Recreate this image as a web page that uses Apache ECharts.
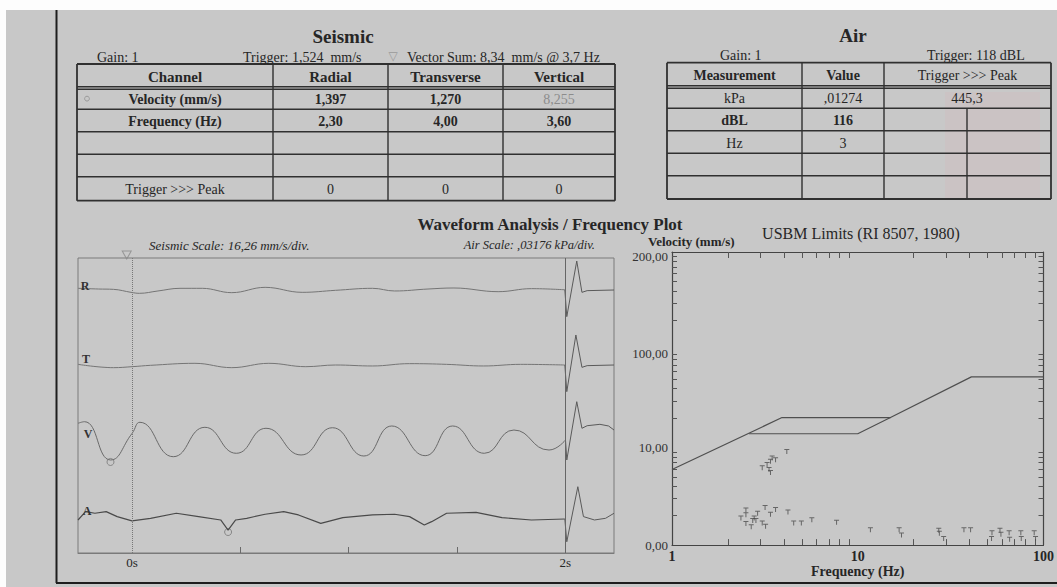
<!DOCTYPE html>
<html><head><meta charset="utf-8">
<script src="https://cdn.jsdelivr.net/npm/echarts@6/dist/echarts.min.js"></script>
<style>html,body{margin:0;padding:0;background:#c8c8c8;}#c{width:1057px;height:587px;}</style>
</head><body><div id="c"></div>
<script>
// ---------- DATA ----------
const SEIS_CHANNELS = ['Radial', 'Transverse', 'Vertical'];
const SEIS_VELOCITY = ['1,397', '1,270', '8,255'];
const SEIS_FREQ = ['2,30', '4,00', '3,60'];
const SEIS_TRIG_PEAK = ['0', '0', '0'];
const AIR_MEAS = ['kPa', 'dBL', 'Hz'];
const AIR_VALUES = [',01274', '116', '3'];
const AIR_TRIG_PEAK = '445,3';

const CHANNEL_LABELS = ['R', 'T', 'V', 'A'];
const SEISMIC_SCALE = 16.26;   // mm/s per div
const AIR_SCALE = 0.03176;     // kPa per div

// time (s), velocity (mm/s)
const WAVE_R = [[-0.25,0.36],[-0.155,0.21],[-0.086,0.14],[-0.005,-0.50],[0.033,-0.71],[0.119,-0.21],[0.221,0.36],[0.324,0.36],[0.460,-0.57],[0.614,0.57],[0.785,-0.50],[0.939,-0.07],[1.110,0.36],[1.212,-0.21],[1.366,0.21],[1.486,0.43],[1.690,-0.36],[1.844,0.29],[1.998,0.05]];
const PULSE_R = [[1.998,0.05],[2.007,-5.70],[2.053,6.20],[2.077,-0.50],[2.101,-0.14],[2.225,0]];
const WAVE_T = [[-0.25,0.14],[-0.086,-0.57],[0.000,-0.36],[0.085,-0.07],[0.290,0.36],[0.460,-0.57],[0.631,0.36],[0.802,-0.36],[0.939,0],[1.110,-0.21],[1.281,0.29],[1.452,0.14],[1.623,-0.21],[1.793,0.14],[1.998,0]];
const PULSE_T = [[1.998,0],[2.007,-5.70],[2.049,6.42],[2.077,-0.50],[2.101,-0.14],[2.225,0]];
const WAVE_V = [[-0.25,3.79],[-0.220,4.13],[-0.100,-4.06],[0.000,1.65],[0.036,4.0],[0.190,-3.36],[0.336,2.93],[0.481,-2.63],[0.618,2.72],[0.780,-2.99],[0.925,2.84],[1.070,-3.21],[1.199,3.21],[1.353,-3.14],[1.480,3.21],[1.626,-2.63],[1.763,2.35],[1.925,-1.93],[2.001,0.21]];
const PULSE_V = [[2.001,0.21],[2.007,-4.06],[2.053,8.41],[2.077,2.72],[2.101,3.27],[2.16,3.57],[2.20,3.21],[2.225,2.35]];
// time (s), pressure (kPa)
const WAVE_A = [[-0.25,-0.0007],[-0.215,0.0028],[-0.172,0.0021],[-0.120,0.0028],[-0.069,0.0007],[-0.001,-0.0011],[0.085,0],[0.204,0.0021],[0.307,0.0007],[0.409,-0.0007],[0.443,-0.0049],[0.478,-0.0007],[0.529,0],[0.614,0.0017],[0.700,0.0028],[0.768,0.0014],[0.871,-0.0021],[0.973,0.0003],[1.110,0.0014],[1.212,0.0017],[1.281,0.0007],[1.349,-0.0028],[1.383,-0.0014],[1.452,0.0021],[1.588,0.0025],[1.708,0.0003],[1.844,-0.0007],[1.998,-0.0003]];
const PULSE_A = [[1.998,-0.0003],[2.007,-0.0098],[2.058,0.0132],[2.084,0.0007],[2.135,-0.0007],[2.186,0],[2.225,0.0021]];
const PEAK_MARK_V = [[-0.100, -4.06]];
const PEAK_MARK_A = [[0.443, -0.0049]];

// frequency (Hz), velocity (mm/s)
const USBM_UPPER = [[1,5.95],[3.91,20.2],[15.0,20.2],[40.9,52.7],[100,52.7]];
const USBM_LOWER = [[2.60,13.8],[10,13.8],[15.0,20.2]];
const PPV_POINTS = [[4.15,9.06],[3.46,7.79],[3.61,7.49],[3.39,7.20],[3.25,6.68],[3.06,6.19],[3.33,5.95],[3.39,5.52],
 [2.50,2.29],[2.50,2.04],[2.35,1.89],[2.77,1.89],[2.89,2.12],[2.83,1.79],[2.72,1.79],[2.50,1.66],[2.67,1.54],[3.06,1.68],[3.19,1.56],[3.17,2.43],[3.39,2.07],[3.61,2.32],[4.21,2.18],[4.52,1.68],[4.97,1.68],[5.66,1.82],[7.69,1.71],
 [11.7,1.44],[16.7,1.44],[17.2,1.27],[27.3,1.42],[27.5,1.32],[29.0,1.17],[37.3,1.44],[40.5,1.44],[52.8,1.34],[52.5,1.17],[58.3,1.42],[59.0,1.29],[65.3,1.34],[65.7,1.15],[75.5,1.34],[75.9,1.17],[89.1,1.34],[90.6,1.17]];
const FREQ_X_LABELS = [1, 10, 100];
const FREQ_Y_LABELS = {1: '0,00', 10: '10,00', 100: '100,00', 1000: '200,00'};
const LOG_MINOR_X = [2,3,4,5,6,7,8,9,20,30,40,50,60,70,80,90];
const LOG_MINOR_Y = [2,3,4,5,6,7,8,9,20,30,40,50,60,70,80,90,200,300,400,500,600,700,800,900];

// ---------- LAYOUT / STYLE ----------
const SERIF = '"Liberation Serif", "DejaVu Serif", serif';
const INK = '#262626';
const BG = '#c8c8c8';
const g = [];
function T(text, x, y, o) {
  o = o || {};
  g.push({type: 'text', x: x, y: y, silent: true, z: 10, style: {
    text: text, fontFamily: SERIF, fontSize: o.fs || 14, fontWeight: o.fw || 'normal',
    fontStyle: o.it ? 'italic' : 'normal', fill: o.color || INK,
    align: o.align || 'center', verticalAlign: 'middle'}});
}
function L(x1, y1, x2, y2, w, c) {
  g.push({type: 'line', silent: true, z: 5, shape: {x1: x1, y1: y1, x2: x2, y2: y2},
    style: {stroke: c || '#303030', lineWidth: w || 1.4}});
}
// page edges
g.push({type: 'rect', z: 1, silent: true, shape: {x: 0, y: 0, width: 1057, height: 10}, style: {fill: '#fdfdfd'}});
g.push({type: 'rect', z: 1, silent: true, shape: {x: 0, y: 0, width: 6, height: 587}, style: {fill: '#fdfdfd'}});
L(56.5, 10, 56.5, 583, 2, '#1e1e1e');
L(56, 583, 1057, 583, 2, '#1e1e1e');

// ---- Seismic table ----
const sCols = [77, 273, 388, 503, 615];
const sRows = [64, 88, 109.3, 131.7, 154.3, 176.7, 200.7];
T('Seismic', 343, 36, {fs: 19, fw: 'bold'});
T('Gain: 1', 97, 57, {align: 'left'});
T('Trigger: 1,524  mm/s', 243, 57, {align: 'left'});
T('\u25BD', 393, 56, {color: '#9a9a9a', fs: 12});
T('Vector Sum: 8,34  mm/s @ 3,7 Hz', 407, 57, {align: 'left'});
sRows.forEach(function (y, i) {
  if (i === 1) { L(sCols[0], y - 1.3, sCols[4], y - 1.3); L(sCols[0], y + 1.3, sCols[4], y + 1.3); }
  else L(sCols[0], y, sCols[4], y, i === 0 || i === sRows.length - 1 ? 1.8 : 1.4);
});
sCols.forEach(function (x, i) { L(x, sRows[0], x, sRows[6], i === 0 || i === 4 ? 1.8 : 1.4); });
function cx(cols, i) { return (cols[i] + cols[i + 1]) / 2; }
function cy(rows, i) { return (rows[i] + rows[i + 1]) / 2 + 1; }
T('Channel', cx(sCols, 0), cy(sRows, 0), {fs: 15, fw: 'bold'});
SEIS_CHANNELS.forEach(function (t, i) { T(t, cx(sCols, i + 1), cy(sRows, 0), {fs: 15, fw: 'bold'}); });
T('Velocity (mm/s)', cx(sCols, 0), cy(sRows, 1), {fw: 'bold'});
SEIS_VELOCITY.forEach(function (t, i) { T(t, cx(sCols, i + 1), cy(sRows, 1), i === 2 ? {color: '#8c8c8c'} : {fw: 'bold'}); });
g.push({type: 'circle', silent: true, z: 10, shape: {cx: 87, cy: cy(sRows, 1) - 1, r: 2.4}, style: {fill: 'none', stroke: '#9a9a9a', lineWidth: 1}});
T('Frequency (Hz)', cx(sCols, 0), cy(sRows, 2), {fw: 'bold'});
SEIS_FREQ.forEach(function (t, i) { T(t, cx(sCols, i + 1), cy(sRows, 2), {fw: 'bold'}); });
T('Trigger >>> Peak', cx(sCols, 0), cy(sRows, 5), {});
SEIS_TRIG_PEAK.forEach(function (t, i) { T(t, cx(sCols, i + 1), cy(sRows, 5), {}); });

// ---- Air table ----
const aCols = [667, 802, 884, 1051];
const aSub = 967;
const aRows = [62.7, 87, 108.3, 130.7, 153.3, 175.7, 199];
g.push({type: 'rect', z: 2, silent: true, shape: {x: 945, y: 92, width: 95, height: 106},
  style: {fill: 'rgba(225,170,180,0.14)'}});
T('Air', 853, 35, {fs: 19, fw: 'bold'});
T('Gain: 1', 720, 55, {align: 'left'});
T('Trigger: 118 dBL', 927, 55, {align: 'left'});
aRows.forEach(function (y, i) {
  if (i === 1) { L(aCols[0], y - 1.3, aCols[3], y - 1.3); L(aCols[0], y + 1.3, aCols[3], y + 1.3); }
  else L(aCols[0], y, aCols[3], y, i === 0 || i === aRows.length - 1 ? 1.8 : 1.4);
});
aCols.forEach(function (x, i) { L(x, aRows[0], x, aRows[6], i === 0 || i === 3 ? 1.8 : 1.4); });
L(aSub, aRows[2], aSub, aRows[6]);
T('Measurement', cx(aCols, 0), cy(aRows, 0), {fs: 14, fw: 'bold'});
T('Value', cx(aCols, 1), cy(aRows, 0), {fs: 14, fw: 'bold'});
T('Trigger >>> Peak', cx(aCols, 2), cy(aRows, 0), {fs: 14});
AIR_MEAS.forEach(function (m, i) {
  const o = i === 1 ? {fw: 'bold'} : {};
  T(m, cx(aCols, 0), cy(aRows, i + 1), o);
  T(AIR_VALUES[i], cx(aCols, 1), cy(aRows, i + 1), o);
});
T(AIR_TRIG_PEAK, aSub, cy(aRows, 1), {});

// ---- section titles ----
T('Waveform Analysis / Frequency Plot', 550, 224, {fs: 17, fw: 'bold'});
T('USBM Limits (RI 8507, 1980)', 861, 233, {fs: 16});
T('Velocity (mm/s)', 648, 241, {fs: 13, fw: 'bold', align: 'left'});
T('Seismic Scale: 16,26 mm/s/div.', 149, 245, {fs: 13, it: true, align: 'left'});
T('Air Scale: ,03176 kPa/div.', 595, 245, {fs: 12.5, it: true, align: 'right'});
const labelPos = [[85, 286], [86, 359], [88, 434], [87, 511]];
CHANNEL_LABELS.forEach(function (c, i) { T(c, labelPos[i][0], labelPos[i][1], {fs: 12, fw: 'bold', color: '#333'}); });

// ---------- CHART ----------
const W_LEFT = 78, W_WIDTH = 536, W_TOP = 258, W_HEIGHT = 295;
const BAND = 76;
const baselines = [290, 365, 441, 518.3];
const grids = [{left: W_LEFT, top: W_TOP, width: W_WIDTH, height: W_HEIGHT, show: true, borderColor: '#7a7a7a', borderWidth: 1, backgroundColor: 'transparent'}];
baselines.forEach(function (b) { grids.push({left: W_LEFT, top: b - BAND / 2, width: W_WIDTH, height: BAND}); });
grids.push({left: 672, top: 252, width: 376, height: 301});

const tMin = -0.25, tMax = 2.225;
const xAxes = [{
  gridIndex: 0, type: 'value', min: tMin, max: tMax,
  axisLine: {show: true, lineStyle: {color: '#7a7a7a', width: 1}},
  axisTick: {show: true, inside: true, length: 6, customValues: [0.5, 1, 1.5], lineStyle: {color: '#6a6a6a'}},
  axisLabel: {show: true, customValues: [0, 2], margin: 3, formatter: function (v) { return v + 's'; },
    fontFamily: SERIF, fontSize: 13, color: INK},
  splitLine: {show: false}
}];
for (let i = 1; i <= 4; i++) xAxes.push({gridIndex: i, type: 'value', min: tMin, max: tMax, show: false});
const logTick = {show: true, inside: true, length: 6, customValues: LOG_MINOR_X, lineStyle: {color: '#555'}};
xAxes.push({
  gridIndex: 5, type: 'log', logBase: 10, min: 1, max: 100, position: 'bottom',
  axisLine: {show: true, onZero: false, lineStyle: {color: '#444', width: 1.2}},
  axisTick: logTick, minorTick: {show: false},
  axisLabel: {customValues: FREQ_X_LABELS, margin: 4, fontFamily: SERIF, fontSize: 14, fontWeight: 'bold', color: INK},
  splitLine: {show: false},
  name: 'Frequency (Hz)', nameLocation: 'middle', nameGap: 18,
  nameTextStyle: {fontFamily: SERIF, fontSize: 14, fontWeight: 'bold', color: INK}
});
xAxes.push({
  gridIndex: 5, type: 'log', logBase: 10, min: 1, max: 100, position: 'top',
  axisLine: {show: true, onZero: false, lineStyle: {color: '#444', width: 1.2}},
  axisTick: logTick, axisLabel: {show: false}, splitLine: {show: false}
});

const yAxes = [{gridIndex: 0, type: 'value', min: 0, max: 1, show: false}];
[SEISMIC_SCALE, SEISMIC_SCALE, SEISMIC_SCALE, AIR_SCALE].forEach(function (s, i) {
  yAxes.push({gridIndex: i + 1, type: 'value', min: -s / 2, max: s / 2, show: false});
});
const logTickY = {show: true, inside: true, length: 5, customValues: LOG_MINOR_Y, lineStyle: {color: '#555'}};
const yLabFont = {fontFamily: SERIF, fontSize: 13, color: '#333'};
yAxes.push({
  gridIndex: 5, type: 'log', logBase: 10, min: 1, max: 1000, position: 'left',
  axisLine: {show: true, onZero: false, lineStyle: {color: '#444', width: 1.2}},
  axisTick: logTickY,
  axisLabel: Object.assign({customValues: [1, 10, 100, 1000], margin: 4,
    formatter: function (v) { const k = Math.round(v); const s = FREQ_Y_LABELS[k]; return k >= 100 ? '{low|' + s + '}' : s; },
    rich: {low: Object.assign({padding: [8, 0, 0, 0]}, yLabFont)}}, yLabFont),
  splitLine: {show: false}
});
yAxes.push({
  gridIndex: 5, type: 'log', logBase: 10, min: 1, max: 1000, position: 'right',
  axisLine: {show: true, onZero: false, lineStyle: {color: '#444', width: 1.2}},
  axisTick: logTickY, axisLabel: {show: false}, splitLine: {show: false}
});

function trace(data, idx, smooth, color, w) {
  return {type: 'line', xAxisIndex: idx, yAxisIndex: idx, data: data, showSymbol: false, symbol: 'none',
    smooth: smooth, clip: false, silent: true, lineStyle: {color: color, width: w}};
}
const series = [
  {type: 'scatter', xAxisIndex: 0, yAxisIndex: 0, data: [[-0.025, 1.01]], symbol: 'triangle', symbolRotate: 180,
   symbolSize: [9, 8], clip: false, silent: true, itemStyle: {color: 'rgba(0,0,0,0)', borderColor: '#8a8a8a', borderWidth: 1},
   markLine: {silent: true, symbol: 'none', label: {show: false},
     data: [{xAxis: 0, lineStyle: {type: 'dotted', color: '#777', width: 1}},
            {xAxis: 2, lineStyle: {type: 'solid', color: '#666', width: 1}}]}},
  trace(WAVE_R, 1, 0.4, '#757575', 1), trace(PULSE_R, 1, false, '#5a5a5a', 1),
  trace(WAVE_T, 2, 0.4, '#757575', 1), trace(PULSE_T, 2, false, '#5a5a5a', 1),
  trace(WAVE_V, 3, 0.5, '#6a6a6a', 1), trace(PULSE_V, 3, false, '#5a5a5a', 1),
  trace(WAVE_A, 4, false, '#4a4a4a', 1.2), trace(PULSE_A, 4, false, '#5a5a5a', 1),
  {type: 'scatter', xAxisIndex: 3, yAxisIndex: 3, data: PEAK_MARK_V, symbol: 'circle', symbolSize: 7, symbolOffset: [0, 2], silent: true,
   itemStyle: {color: 'rgba(0,0,0,0)', borderColor: '#777', borderWidth: 1}},
  {type: 'scatter', xAxisIndex: 4, yAxisIndex: 4, data: PEAK_MARK_A, symbol: 'circle', symbolSize: 7, symbolOffset: [0, 2], silent: true,
   itemStyle: {color: 'rgba(0,0,0,0)', borderColor: '#777', borderWidth: 1}},
  {type: 'line', xAxisIndex: 5, yAxisIndex: 5, data: USBM_UPPER, showSymbol: false, symbol: 'none', silent: true,
   lineStyle: {color: '#4f4f4f', width: 1.2}},
  {type: 'line', xAxisIndex: 5, yAxisIndex: 5, data: USBM_LOWER, showSymbol: false, symbol: 'none', silent: true,
   lineStyle: {color: '#4f4f4f', width: 1.2}},
  {type: 'scatter', xAxisIndex: 5, yAxisIndex: 5, data: PPV_POINTS, silent: true,
   symbol: 'path://M0,0H8V1.6H0Z M3.2,0H4.8V8H3.2Z', symbolSize: 5, itemStyle: {color: '#4d4d4d'}}
];

const chart = echarts.init(document.getElementById('c'), null, {renderer: 'svg'});
chart.setOption({
  backgroundColor: BG,
  animation: false,
  textStyle: {fontFamily: SERIF},
  grid: grids, xAxis: xAxes, yAxis: yAxes, series: series,
  graphic: {elements: g}
});
</script></body></html>
